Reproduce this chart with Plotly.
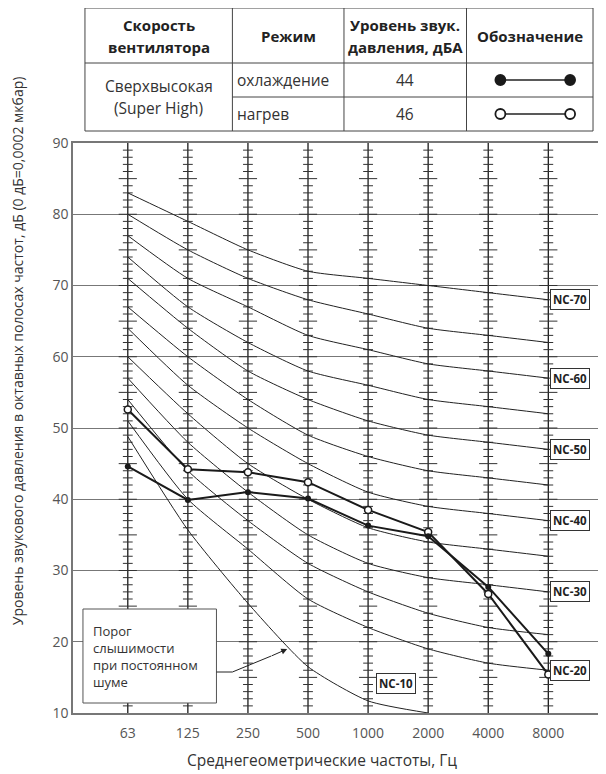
import plotly.graph_objects as go

# ---------------- data ----------------
freqs = ["63", "125", "250", "500", "1000", "2000", "4000", "8000"]

nc_names = ["NC-70", "NC-65", "NC-60", "NC-55", "NC-50", "NC-45",
            "NC-40", "NC-35", "NC-30", "NC-25", "NC-20"]
nc70 = [83, 79, 75, 72, 71, 70, 69, 68]
nc65 = [80, 75, 71, 68, 66, 64, 63, 62]
nc60 = [77, 71, 67, 63, 61, 59, 58, 57]
nc55 = [74, 67, 62, 58, 56, 54, 53, 52]
nc50 = [71, 64, 58, 54, 51, 49, 48, 47]
nc45 = [67, 60, 54, 49, 46, 44, 43, 42]
nc40 = [64, 56, 50, 45, 41, 39, 38, 37]
nc35 = [60, 52, 45, 40, 36, 34, 33, 32]
nc30 = [57, 48, 41, 35, 31, 29, 28, 27]
nc25 = [54, 44, 37, 31, 27, 24, 22, 21]
nc20 = [51, 40, 33, 26, 22, 19, 17, 16]
nc10 = [48.8, 35.7, 25.4, 16.5, 11.7, 10.0, None, None]
nc_curves = [nc70, nc65, nc60, nc55, nc50, nc45, nc40, nc35, nc30, nc25, nc20]
labeled = ["NC-70", "NC-60", "NC-50", "NC-40", "NC-30", "NC-20"]

cooling = [44.6, 39.9, 41.0, 40.1, 36.3, 34.8, 27.7, 18.3]
heating = [52.6, 44.2, 43.8, 42.4, 38.5, 35.4, 26.7, 15.4]

table_header = [["Скорость", "вентилятора"], ["Режим"], ["Уровень звук.", "давления, дБА"], ["Обозначение"]]
fan_speed = ["Сверхвысокая", "(Super High)"]
modes = ["охлаждение", "нагрев"]
levels_dba = ["44", "46"]

y_ticks = [10, 20, 30, 40, 50, 60, 70, 80, 90]
y_title = "Уровень звукового давления в октавных полосах частот, дБ (0 дБ=0,0002 мкбар)"
x_title = "Среднегеометрические частоты, Гц"
threshold_text = "Порог<br>слышимости<br>при постоянном<br>шуме"

# ---------------- geometry helpers (page pixel coords) ----------------
OFF = 8                      # default body margin of the html page
W, H = 606 - OFF, 774 - OFF  # figure size
PL, PR, PT, PB = 73, 603, 143, 713   # plot area on the page
L, R, T, B = PL - OFF, W - (PR - OFF), PT - OFF, H - (PB - OFF)
PW, PH = PR - PL, PB - PT
FONT = "Open Sans"


def pxx(x):
    return (x - PL) / PW


def pxy(y):
    return (PB - y) / PH


xi = list(range(len(freqs)))
fig = go.Figure()

# vertical frequency lines with hash marks
for i in xi:
    fig.add_trace(go.Scatter(x=[i, i], y=[10, 90], mode="lines",
                             line=dict(color="#1a1a1a", width=1.3),
                             hoverinfo="skip", showlegend=False))
small_x, small_y, big_x, big_y = [], [], [], []
for i in xi:
    for v in range(11, 90):
        if v % 5 == 0:
            big_x.append(i); big_y.append(v)
        else:
            small_x.append(i); small_y.append(v)
fig.add_trace(go.Scatter(x=small_x, y=small_y, mode="markers",
                         marker=dict(symbol="line-ew", size=7,
                                     line=dict(color="#333", width=1)),
                         hoverinfo="skip", showlegend=False))
fig.add_trace(go.Scatter(x=big_x, y=big_y, mode="markers",
                         marker=dict(symbol="line-ew", size=13,
                                     line=dict(color="#333", width=1)),
                         hoverinfo="skip", showlegend=False))

# NC curves
for name, vals in zip(nc_names, nc_curves):
    fig.add_trace(go.Scatter(x=xi, y=vals, mode="lines", name=name,
                             line=dict(color="#222", width=1, shape="spline", smoothing=0.6),
                             showlegend=False))
fig.add_trace(go.Scatter(x=xi, y=nc10, mode="lines", name="NC-10",
                         line=dict(color="#222", width=1, shape="spline", smoothing=0.6),
                         showlegend=False))

# measured series
fig.add_trace(go.Scatter(x=xi, y=heating, mode="lines+markers", name="нагрев",
                         line=dict(color="#1a1a1a", width=2),
                         marker=dict(symbol="circle", size=7, color="white",
                                     line=dict(color="#1a1a1a", width=1.5)),
                         showlegend=False))
fig.add_trace(go.Scatter(x=xi, y=cooling, mode="lines+markers", name="охлаждение",
                         line=dict(color="#1a1a1a", width=2),
                         marker=dict(symbol="circle", size=6, color="#1a1a1a"),
                         showlegend=False))

annotations = []
shapes = []

# NC labels at right end of curves
nc_font = dict(family=FONT, size=11.5, color="#222")
for name, vals in zip(nc_names, nc_curves):
    if name in labeled:
        annotations.append(dict(x=7, y=vals[-1], xref="x", yref="y", text="<b>" + name + "</b>",
                                xanchor="left", yanchor="middle", xshift=2, showarrow=False,
                                font=nc_font, bgcolor="white", bordercolor="#333",
                                borderwidth=1, borderpad=2))
annotations.append(dict(x=4.47, y=14.1, xref="x", yref="y", text="<b>NC-10</b>",
                        xanchor="center", yanchor="middle", showarrow=False,
                        font=nc_font, bgcolor="white", bordercolor="#333",
                        borderwidth=1, borderpad=2))

# threshold box
shapes.append(dict(type="rect", xref="paper", yref="paper",
                   x0=pxx(83), x1=pxx(217), y0=pxy(703), y1=pxy(609),
                   fillcolor="white", line=dict(color="#555", width=1), layer="above"))
annotations.append(dict(x=pxx(91), y=pxy(656), xref="paper", yref="paper", text=threshold_text,
                        xanchor="left", yanchor="middle", align="left", showarrow=False,
                        font=dict(family=FONT, size=13, color="#333")))
shapes.append(dict(type="path", xref="paper", yref="paper",
                   path=f"M {pxx(217)} {pxy(672)} L {pxx(233)} {pxy(672)} L {pxx(272)} {pxy(656)}",
                   line=dict(color="#222", width=1), layer="above"))
annotations.append(dict(x=pxx(288), y=pxy(649), xref="paper", yref="paper",
                        ax=-17, ay=7.5,
                        text="", showarrow=True, arrowhead=2, arrowsize=1.2,
                        arrowwidth=1, arrowcolor="#222"))

# axis titles
annotations.append(dict(x=pxx(17), y=pxy(351), xref="paper", yref="paper", text=y_title,
                        textangle=-90, showarrow=False, xanchor="center", yanchor="middle",
                        font=dict(family=FONT, size=14, color="#333")))
annotations.append(dict(x=pxx(323), y=pxy(760), xref="paper", yref="paper", text=x_title,
                        showarrow=False, xanchor="center", yanchor="middle",
                        font=dict(family=FONT, size=15.5, color="#333")))

# ---------------- table ----------------
tc = "#444"
tx0, tx1, ty0, ty1 = 85, 595, 8, 131
col_edges = [85, 233, 345, 468, 595]
shapes.append(dict(type="rect", xref="paper", yref="paper", x0=pxx(tx0), x1=pxx(tx1),
                   y0=pxy(ty1), y1=pxy(ty0), line=dict(color=tc, width=1)))
shapes.append(dict(type="line", xref="paper", yref="paper", x0=pxx(tx0), x1=pxx(tx1),
                   y0=pxy(63), y1=pxy(63), line=dict(color=tc, width=1)))
shapes.append(dict(type="line", xref="paper", yref="paper", x0=pxx(233), x1=pxx(tx1),
                   y0=pxy(97), y1=pxy(97), line=dict(color=tc, width=1)))
for ce in col_edges[1:-1]:
    shapes.append(dict(type="line", xref="paper", yref="paper", x0=pxx(ce), x1=pxx(ce),
                       y0=pxy(ty1), y1=pxy(ty0), line=dict(color=tc, width=1)))
centers = [(col_edges[k] + col_edges[k + 1]) / 2 for k in range(4)]
hdr_font = dict(family=FONT, size=15, color="#222")
cell_font = dict(family=FONT, size=15.5, color="#333")
for k, h in enumerate(table_header):
    ys = [36] if len(h) == 1 else [25, 47]
    for t, yy in zip(h, ys):
        annotations.append(dict(x=pxx(centers[k]), y=pxy(yy), xref="paper", yref="paper",
                                text="<b>" + t + "</b>", showarrow=False,
                                xanchor="center", yanchor="middle", font=hdr_font))
for t, yy in zip(fan_speed, [86, 108]):
    annotations.append(dict(x=pxx(centers[0]), y=pxy(yy), xref="paper", yref="paper",
                            text=t, showarrow=False, xanchor="center", yanchor="middle",
                            font=cell_font))
row_y = [80, 114]
for k in range(2):
    annotations.append(dict(x=pxx(236), y=pxy(row_y[k]), xref="paper", yref="paper",
                            text=modes[k], showarrow=False, xanchor="left", yanchor="middle",
                            font=cell_font))
    annotations.append(dict(x=pxx(centers[2]), y=pxy(row_y[k]), xref="paper", yref="paper",
                            text=levels_dba[k], showarrow=False, xanchor="center", yanchor="middle",
                            font=cell_font))
    shapes.append(dict(type="line", xref="paper", yref="paper", x0=pxx(502), x1=pxx(572),
                       y0=pxy(row_y[k]), y1=pxy(row_y[k]), line=dict(color="#222", width=1.5)))
    for cx in (502, 572):
        r = 5
        shapes.append(dict(type="circle", xref="paper", yref="paper",
                           x0=pxx(cx - r), x1=pxx(cx + r), y0=pxy(row_y[k] + r), y1=pxy(row_y[k] - r),
                           fillcolor="#1a1a1a" if k == 0 else "white",
                           line=dict(color="#1a1a1a", width=1.8)))

fig.update_layout(
    width=W, height=H,
    margin=dict(l=L, r=R, t=T, b=B),
    paper_bgcolor="white", plot_bgcolor="white",
    font=dict(family=FONT, color="#444"),
    shapes=shapes, annotations=annotations,
    xaxis=dict(range=[-0.912, 7.877], tickvals=xi, ticktext=freqs, showgrid=False,
               zeroline=False, showline=True, mirror=True, linecolor="#777", linewidth=1.5,
               ticks="", ticklabelstandoff=6, tickfont=dict(family=FONT, size=14, color="#555")),
    yaxis=dict(range=[10, 90], tickvals=y_ticks, showgrid=True, gridcolor="#777", gridwidth=1.3,
               zeroline=False, showline=True, mirror=True, linecolor="#777", linewidth=1.5,
               ticks="", tickfont=dict(family=FONT, size=14, color="#555")),
)

fig.write_html("out.html")
